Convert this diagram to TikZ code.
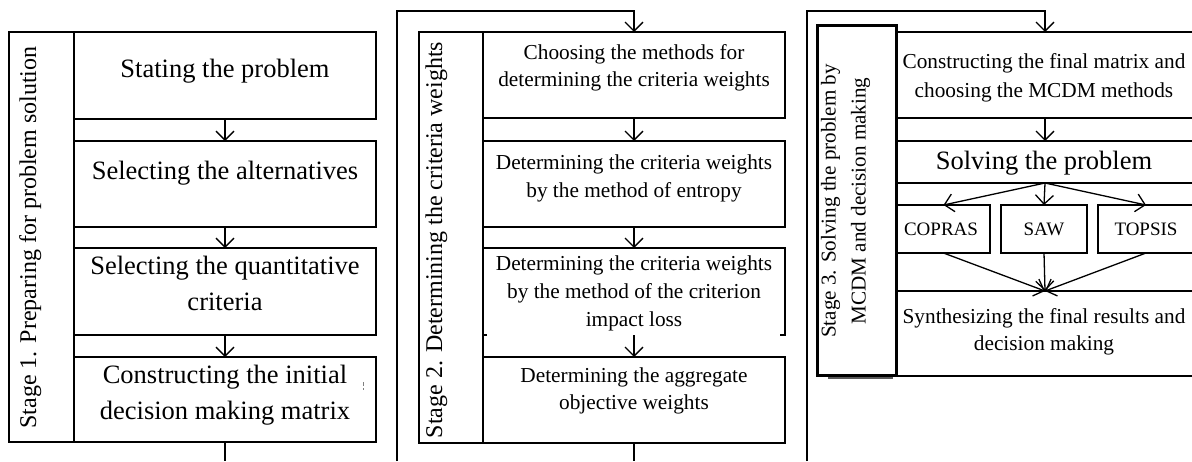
\documentclass[tikz,border=0pt]{standalone}
\usepackage{fontspec}
\setmainfont{Liberation Serif}
\usetikzlibrary{arrows.meta,fit,calc}
\begin{document}
\begin{tikzpicture}[x=0.5pt,y=-0.5pt,
  ln/.style={line width=0.65pt, draw=black},
  box/.style={ln, inner sep=0pt, outer sep=0pt},
  hidden/.style={inner sep=0pt, outer sep=0pt},
  arr/.style={ln, -{Straight Barb[length=4.5pt,width=9pt]}},
  big/.style={inner sep=0pt, align=center, font=\fontsize{13.25pt}{18pt}\selectfont},
  mid/.style={inner sep=0pt, align=center, font=\fontsize{10.65pt}{13.75pt}\selectfont},
  sml/.style={inner sep=0pt, align=center, font=\fontsize{9.5pt}{11pt}\selectfont},
  stg/.style={inner sep=0pt, align=center, rotate=90, font=\fontsize{12pt}{14pt}\selectfont},
]
\useasboundingbox (0,0) rectangle (1192,461);
\begin{scope}
\clip (0,0) rectangle (1192,461);

% ---------------- Panel 1 ----------------
\node[box, fit={(9,32) (74,442)}] (s1) {};
\node[box, fit={(74,32) (376,119)}] (a1) {};
\node[box, fit={(74,141) (376,227)}] (a2) {};
\node[box, fit={(74,248) (376,335)}] (a3) {};
\node[box, fit={(74,357) (376,442)}] (a4) {};
\coordinate (e1) at (225,461);

\node[stg, anchor=base] (s1t) at (36,237.5) {Stage 1. Preparing for problem solution};
\node[big, anchor=base] (a1t) at (225,77) {Stating the problem};
\node[big, anchor=base] (a2t) at (225,179) {Selecting the alternatives};
\node[big] (a3t) at (225,283) {Selecting the quantitative\\criteria};
\node[big] (a4t) at (225,395) {Constructing the initial\\decision making matrix};
\draw[gray, line width=0.5pt, dash pattern=on 2pt off 1pt] (363,382) -- (363,390);

\draw[arr] (a1.south) -- (a2.north);
\draw[arr] (a2.south) -- (a3.north);
\draw[arr] (a3.south) -- (a4.north);
\draw[ln] (a4.south) -- (e1);

% ---------------- Panel 2 ----------------
\node[box, fit={(419,32) (483,443)}] (s2) {};
\node[box, fit={(483,32) (785,118)}] (b1) {};
\node[box, fit={(483,141) (785,227)}] (b2) {};
\node[hidden, fit={(483,248) (785,335)}] (b3) {};
\draw[ln] ($(b3.south west)+(4,0)$) -- (b3.south west) -- (b3.north west) -- (b3.north east) -- (b3.south east) -- ++(-5,0);
\node[box, fit={(483,357) (785,443)}] (b4) {};
\coordinate (l2) at (397,461);
\coordinate (t2) at (634,11);
\coordinate (e2) at (634,461);

\node[stg, anchor=base] (s2t) at (442,240) {Stage 2. Determining the criteria weights};
\node[mid] (b1t) at (634,68) {Choosing the methods for\\determining the criteria weights};
\node[mid] (b2t) at (634,178.3) {Determining the criteria weights\\by the method of entropy};
\node[mid, font=\fontsize{10.65pt}{14pt}\selectfont] (b3t) at (634,293.7) {Determining the criteria weights\\by the method of the criterion\\impact loss};
\node[mid] (b4t) at (634,390.7) {Determining the aggregate\\objective weights};

\draw[arr] (l2) |- (t2) -- (b1.north);
\draw[arr] (b1.south) -- (b2.north);
\draw[arr] (b2.south) -- (b3.north);
\draw[arr] (b3.south) -- (b4.north);
\draw[ln] (b4.south) -- (e2);

% ---------------- Panel 3 ----------------
\draw[gray!70!black, line width=1pt] (828,378) -- (893,378);
\node[box, line width=1.5pt, fit={(817,25) (896,375)}] (s3) {};
\node[box, fit={(896,32) (1194,118)}] (c1) {};
\node[box, fit={(896,141) (1194,183)}] (c2) {};
\node[box, fit={(897,205) (990,253)}] (m1) {};
\node[box, fit={(1001,205) (1087,253)}] (m2) {};
\node[box, fit={(1098,205) (1194,253)}] (m3) {};
\node[box, fit={(896,291) (1194,376)}] (c3) {};
\coordinate (l3) at (807,461);
\coordinate (t3) at (1045,11);

\node[inner sep=0pt, align=center, rotate=90, font=\fontsize{10.55pt}{15pt}\selectfont] (s3t) at (845.5,201) {Stage 3. Solving the problem by\\MCDM and decision making};
\node[mid, font=\fontsize{10.65pt}{14.5pt}\selectfont] (c1t) at (1044,77.8) {Constructing the final matrix and\\choosing the MCDM methods};
\node[big, anchor=base] (c2t) at (1044,169.3) {Solving the problem};
\node[sml, anchor=base] (m1t) at (941,235) {COPRAS};
\node[sml, anchor=base] (m2t) at (1044,235) {SAW};
\node[sml, anchor=base] (m3t) at (1146,235) {TOPSIS};
\node[mid] (c3t) at (1044,332) {Synthesizing the final results and\\decision making};

\draw[arr] (l3) |- (t3) -- (c1.north);
\draw[arr] (c1.south) -- (c2.north);
\draw[arr] (c2.south) -- (m1.north);
\draw[arr] (c2.south) -- (m2.north);
\draw[arr] (c2.south) -- (m3.north);
\draw[arr] (m1.south) -- (c3.north);
\draw[arr] (m2.south) -- (c3.north);
\draw[arr] (m3.south) -- (c3.north);
\end{scope}
\end{tikzpicture}
\end{document}
